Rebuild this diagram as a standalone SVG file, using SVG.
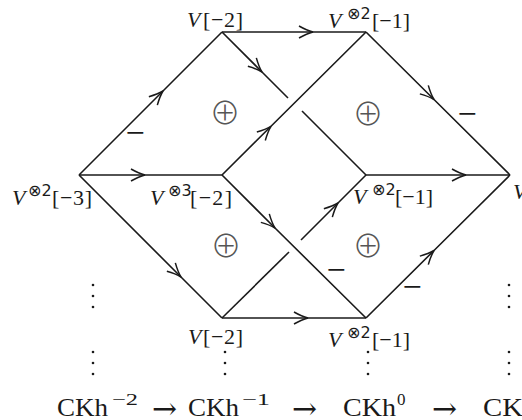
<svg xmlns="http://www.w3.org/2000/svg" width="522" height="420" viewBox="0 0 522 420">
<style>
.e{fill:none;stroke:#1a1a1a;stroke-width:1.6;stroke-linecap:butt}
.a{marker-mid:url(#ah)}
.t{font-family:"Liberation Serif","DejaVu Serif",serif;font-size:22px;fill:#1a1a1a}
.v{font-style:italic}
.s{font-family:"DejaVu Sans","Liberation Serif",serif;font-size:16px}
.op{font-family:"Noto Sans CJK JP","DejaVu Sans",sans-serif;font-weight:300;font-size:31px;fill:#555;text-anchor:middle}
.m{font-family:"Liberation Serif","DejaVu Serif",serif;font-size:34px;fill:#1a1a1a;text-anchor:middle}
.b{font-family:"Liberation Serif","DejaVu Serif",serif;font-size:25px;fill:#1a1a1a}
.bs{font-size:17px}
.ar{font-family:"DejaVu Serif",serif;font-size:30px;fill:#1a1a1a}
.d{fill:#1a1a1a}
</style>
<defs>
<marker id="ah" markerUnits="userSpaceOnUse" orient="auto" markerWidth="30" markerHeight="30" refX="0" refY="0" style="overflow:visible">
<path d="M-14,-6 Q-6,-1.5 0,0 Q-6,1.5 -14,6" fill="none" stroke="#1a1a1a" stroke-width="1.5"/>
</marker>
</defs>
<g id="connectors">
<path class="e a" d="M79 175 L163 91 L222 32"/>
<path class="e a" d="M79 175 L145 175 L222 175"/>
<path class="e a" d="M79 175 L181 277 L222 318"/>
<path class="e a" d="M222 32 L313 32 L366 32"/>
<path class="e a" d="M222 32 L262 72 L288 98"/>
<path class="e" d="M302 111 L366 175"/>
<path class="e a" d="M222 175 L271 126.3 L366 32"/>
<path class="e a" d="M366 32 L434 99.5 L510 175"/>
<path class="e a" d="M366 175 L466 175 L510 175"/>
<path class="e a" d="M222 175 L275 228 L366 318"/>
<path class="e" d="M222 318 L289 252"/>
<path class="e a" d="M301 240 L338 203 L366 175"/>
<path class="e a" d="M222 318 L308 318 L366 318"/>
<path class="e a" d="M366 318 L434 250.5 L510 175"/>
<text class="m" x="135" y="144">−</text>
<text class="m" x="467" y="125">−</text>
<text class="m" x="336" y="281">−</text>
<text class="m" x="412" y="298">−</text>
</g>
<g id="sums">
<text class="op" x="225" y="123.5">⊕</text>
<text class="op" x="368" y="124.5">⊕</text>
<text class="op" x="226" y="257">⊕</text>
<text class="op" x="368" y="257">⊕</text>
</g>
<g id="n-left"><text class="t" y="205"><tspan class="v" x="12">V</tspan><tspan class="s" x="28" dy="-9">⊗2</tspan><tspan x="52" dy="9" textLength="40" lengthAdjust="spacing">[−3]</tspan></text></g>
<g id="n-topA"><text class="t" y="27"><tspan class="v" x="187">V</tspan><tspan x="203" textLength="40" lengthAdjust="spacing">[−2]</tspan></text></g>
<g id="n-midA"><text class="t" y="205"><tspan class="v" x="150">V</tspan><tspan class="s" x="168" dy="-9">⊗3</tspan><tspan x="190" dy="9" textLength="42" lengthAdjust="spacing">[−2]</tspan></text></g>
<g id="n-botA"><text class="t" y="344"><tspan class="v" x="188">V</tspan><tspan x="203" textLength="40" lengthAdjust="spacing">[−2]</tspan></text></g>
<g id="n-topB"><text class="t" y="28"><tspan class="v" x="328">V</tspan><tspan class="s" x="347" dy="-9">⊗2</tspan><tspan x="372" dy="9" textLength="38" lengthAdjust="spacing">[−1]</tspan></text></g>
<g id="n-midB"><text class="t" y="204"><tspan class="v" x="353">V</tspan><tspan class="s" x="372" dy="-9">⊗2</tspan><tspan x="395" dy="9" textLength="38" lengthAdjust="spacing">[−1]</tspan></text></g>
<g id="n-botB"><text class="t" y="347"><tspan class="v" x="328">V</tspan><tspan class="s" x="347" dy="-9">⊗2</tspan><tspan x="372" dy="9" textLength="38" lengthAdjust="spacing">[−1]</tspan></text></g>
<g id="n-right"><text class="t" y="199"><tspan class="v" x="513">V</tspan></text></g>
<g id="dots">
<circle class="d" cx="93" cy="285" r="1.3"/><circle class="d" cx="93" cy="296" r="1.3"/><circle class="d" cx="93" cy="307" r="1.3"/>
<circle class="d" cx="93" cy="352" r="1.3"/><circle class="d" cx="93" cy="363" r="1.3"/><circle class="d" cx="93" cy="374" r="1.3"/>
<circle class="d" cx="225" cy="352" r="1.3"/><circle class="d" cx="225" cy="363" r="1.3"/><circle class="d" cx="225" cy="374" r="1.3"/>
<circle class="d" cx="368" cy="352" r="1.3"/><circle class="d" cx="368" cy="363" r="1.3"/><circle class="d" cx="368" cy="374" r="1.3"/>
<circle class="d" cx="509" cy="285" r="1.3"/><circle class="d" cx="509" cy="296" r="1.3"/><circle class="d" cx="509" cy="307" r="1.3"/>
<circle class="d" cx="509" cy="352" r="1.3"/><circle class="d" cx="509" cy="363" r="1.3"/><circle class="d" cx="509" cy="374" r="1.3"/>
</g>
<g id="complex">
<text class="b" y="416"><tspan x="57" textLength="51" lengthAdjust="spacingAndGlyphs">CKh</tspan><tspan class="bs" x="112" dy="-11" textLength="26" lengthAdjust="spacingAndGlyphs">−2</tspan><tspan x="188" dy="11" textLength="51" lengthAdjust="spacingAndGlyphs">CKh</tspan><tspan class="bs" x="242" dy="-11" textLength="28" lengthAdjust="spacingAndGlyphs">−1</tspan><tspan x="343" dy="11" textLength="53" lengthAdjust="spacingAndGlyphs">CKh</tspan><tspan class="bs" x="397" dy="-11">0</tspan><tspan x="483" dy="11" textLength="40" lengthAdjust="spacingAndGlyphs">CK</tspan></text>
<text class="ar" y="419"><tspan x="152">→</tspan><tspan x="292">→</tspan><tspan x="432">→</tspan></text>
</g>
</svg>
